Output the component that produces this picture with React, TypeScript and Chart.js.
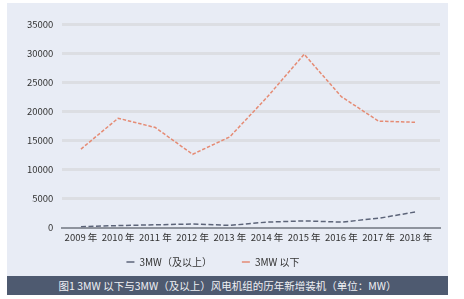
import { useEffect, useRef } from "react";
import { Chart, registerables } from "chart.js";

Chart.register(...registerables);

const years = ["2009 年", "2010 年", "2011 年", "2012 年", "2013 年", "2014 年", "2015 年", "2016 年", "2017 年", "2018 年"];
const above3MW = [150, 350, 480, 620, 380, 950, 1150, 950, 1600, 2700];
const below3MW = [13500, 18800, 17200, 12600, 15600, 22400, 29800, 22500, 18300, 18100];
const seriesNames = ["3MW（及以上）", "3MW 以下"];
const yMax = 35000;
const yStep = 5000;
const caption = "图1 3MW 以下与3MW（及以上）风电机组的历年新增装机（单位：MW）";

const FONT = "'Noto Sans CJK SC', 'Noto Sans', sans-serif";

const legendShift = {
  id: "legendShift",
  afterLayout(chart: any) {
    const lg = chart.legend;
    if (!lg) return;
    lg.left -= 16;
    lg.right -= 16;
  },
};

export default function App() {
  const ref = useRef<HTMLCanvasElement | null>(null);

  useEffect(() => {
    if (!ref.current) return;
    const chart = new Chart(ref.current, {
      type: "line",
      data: {
        datasets: [
          {
            label: seriesNames[0],
            data: above3MW.map((v, i) => ({ x: i, y: v })),
            borderColor: "#5C6479",
            backgroundColor: "#5C6479",
            borderWidth: 1.5,
            borderDash: [5, 2.5],
            pointRadius: 0,
            tension: 0,
          },
          {
            label: seriesNames[1],
            data: below3MW.map((v, i) => ({ x: i, y: v })),
            borderColor: "#E58B74",
            backgroundColor: "#E58B74",
            borderWidth: 1.5,
            borderDash: [3.5, 1.8],
            pointRadius: 0,
            tension: 0,
          },
        ],
      },
      plugins: [legendShift],
      options: {
        animation: false,
        responsive: false,
        layout: { padding: { left: 11, right: 8, top: 21, bottom: -1 } },
        plugins: {
          tooltip: { enabled: false },
          legend: {
            position: "bottom",
            labels: {
              color: "#333",
              font: { family: FONT, size: 10 },
              usePointStyle: true,
              pointStyle: "line",
              pointStyleWidth: 8,
              boxHeight: 10,
              padding: 10,
              generateLabels: (c: any) => {
                const items = Chart.defaults.plugins.legend.labels.generateLabels(c);
                items.forEach((it: any, i: number) => {
                  if (i < items.length - 1) it.text = it.text + "\u3000\u3000\u2002";
                });
                return items;
              },
            },
          },
        },
        scales: {
          x: {
            type: "linear",
            min: -0.5,
            max: 9.65,
            afterBuildTicks: (axis: any) => {
              axis.ticks = years.map((_, i) => ({ value: i }));
            },
            grid: { display: false, drawTicks: false },
            border: { display: true, color: "#8E939D", width: 2 },
            ticks: {
              autoSkip: false,
              maxRotation: 0,
              padding: 4,
              color: "#333",
              font: { family: FONT, size: 9.5 },
              callback: (v: any) => years[v as number],
            },
          },
          y: {
            min: 0,
            max: yMax,
            ticks: {
              stepSize: yStep,
              padding: 9,
              color: "#333",
              font: { family: FONT, size: 9.5 },
              callback: (v: any) => String(v),
            },
            grid: {
              drawTicks: false,
              lineWidth: 3,
              color: (ctx: any) => (ctx.tick && ctx.tick.value === 0 ? "rgba(0,0,0,0)" : "#DCDEE3"),
            },
            border: { display: false },
          },
        },
      },
    });
    return () => chart.destroy();
  }, []);

  return (
    <div style={{ position: "absolute", left: 7, top: 3, width: 441 }}>
      <div style={{ height: 273, background: "#E8ECF5" }}>
        <canvas ref={ref} width={441} height={273} style={{ display: "block" }} />
      </div>
      <div
        style={{
          height: 19,
          background: "#4E5A70",
          color: "#EEF0F4",
          fontFamily: FONT,
          fontSize: 10.5,
          lineHeight: "19px",
          textAlign: "center",
          whiteSpace: "nowrap",
        }}
      >
        {caption}
      </div>
    </div>
  );
}
